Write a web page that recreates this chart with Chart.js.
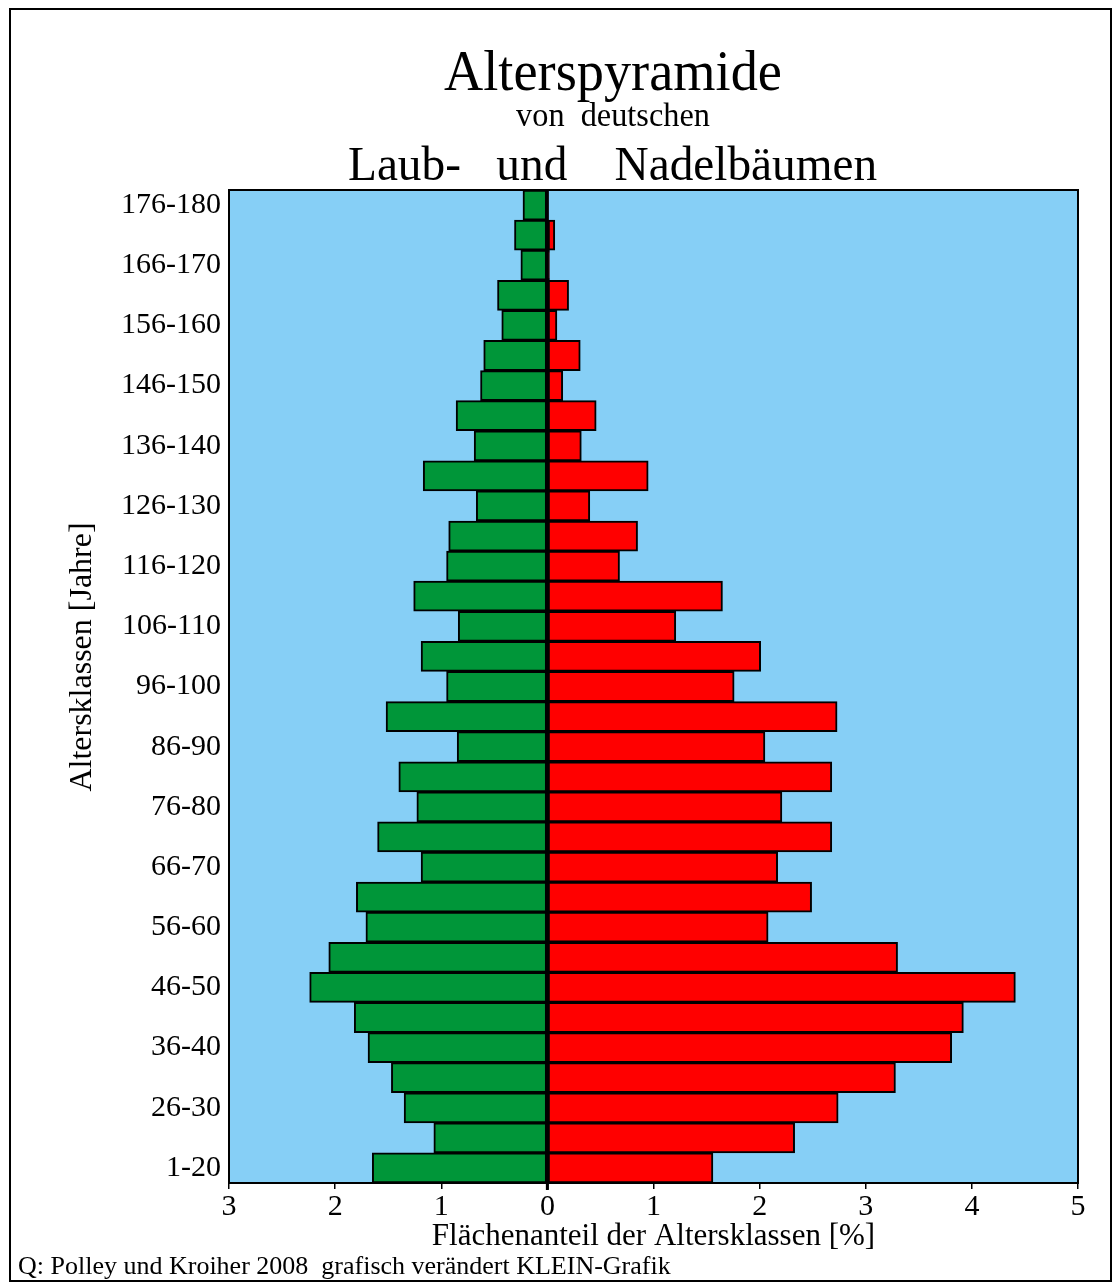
<!DOCTYPE html>
<html lang="de">
<head>
<meta charset="utf-8">
<title>Alterspyramide</title>
<script src="https://cdn.jsdelivr.net/npm/chart.js@4.4.1/dist/chart.umd.min.js"></script>
<style>
    body { margin: 0; background: #fff; font-family: "Liberation Serif", "Times New Roman", serif; }
    #page { position: relative; width: 1120px; height: 1287px; overflow: hidden; }
    #frame { position: absolute; left: 9px; top: 8px; width: 1099px; height: 1270px; border: 2px solid #000; }
    #chartBox { position: absolute; left: 0; top: 0; width: 1120px; height: 1287px; }
    .txt { position: absolute; white-space: pre; line-height: 1; color: #000; }
    #title1 { font-size: 56px; left: 613px; top: 43px; transform: translateX(-50%) scaleX(0.97); }
    #title2 { font-size: 34px; left: 613px; top: 98px; transform: translateX(-50%) scaleX(0.95); }
    #title3 { font-size: 48px; left: 348px; top: 140px; transform-origin: left center; transform: scaleX(0.985); }
    #yTitle { font-size: 32px; left: 80px; top: 657px; transform: translate(-50%, -50%) rotate(-90deg); }
    #source { font-size: 26px; left: 18px; top: 1253px; }
</style>
</head>
<body>
<div id="page">
    <div id="chartBox"><canvas id="pyramidChart"></canvas></div>
    <div id="frame"></div>
    <div class="txt" id="title1">Alterspyramide</div>
    <div class="txt" id="title2">von  deutschen</div>
    <div class="txt" id="title3">Laub-   und    Nadelbäumen</div>
    <div class="txt" id="yTitle">Altersklassen [Jahre]</div>
    <div class="txt" id="source">Q: Polley und Kroiher 2008  grafisch verändert KLEIN-Grafik</div>
</div>
<script>
// Altersklassen, von unten (jung) nach oben (alt)
const ageClasses = ['1-20', '21-25', '26-30', '31-35', '36-40', '41-45', '46-50', '51-55', '56-60',
    '61-65', '66-70', '71-75', '76-80', '81-85', '86-90', '91-95', '96-100', '101-105', '106-110',
    '111-115', '116-120', '121-125', '126-130', '131-135', '136-140', '141-145', '146-150',
    '151-155', '156-160', '161-165', '166-170', '171-175', '176-180'];

// Flächenanteil in % (Laubbäume links, Nadelbäume rechts)
const laubValues = [1.65, 1.07, 1.35, 1.47, 1.69, 1.82, 2.24, 2.06, 1.71, 1.80, 1.19, 1.60, 1.23,
    1.40, 0.85, 1.52, 0.95, 1.19, 0.84, 1.26, 0.95, 0.93, 0.67, 1.17, 0.69, 0.86, 0.63, 0.60,
    0.43, 0.47, 0.25, 0.31, 0.23];
const nadelValues = [1.56, 2.33, 2.74, 3.28, 3.81, 3.92, 4.41, 3.30, 2.08, 2.49, 2.17, 2.68, 2.21,
    2.68, 2.05, 2.73, 1.76, 2.01, 1.21, 1.65, 0.68, 0.85, 0.40, 0.95, 0.32, 0.46, 0.145, 0.31,
    0.09, 0.20, 0.02, 0.07, 0];

// x axis tick labels from -3 to 5
const xTickLabels = ['3', '2', '1', '0', '1', '2', '3', '4', '5'];

Chart.defaults.font.family = '"Liberation Serif", "Times New Roman", serif';
Chart.defaults.color = '#000';

// blue plot background + black frame round the plot
const plotFrame = {
    id: 'plotFrame',
    beforeDatasetsDraw(chart) {
        const a = chart.chartArea;
        const ctx = chart.ctx;
        ctx.save();
        ctx.fillStyle = '#86cff6';
        ctx.fillRect(a.left, a.top, a.right - a.left, a.bottom - a.top);
        ctx.restore();
    },
    afterDatasetsDraw(chart) {
        const a = chart.chartArea;
        const ctx = chart.ctx;
        const zero = chart.scales.x.getPixelForValue(0);
        ctx.save();
        ctx.strokeStyle = '#000';
        ctx.lineWidth = 2;
        ctx.strokeRect(a.left, a.top, a.right - a.left, a.bottom - a.top);
        // zero line down into the tick area
        ctx.lineWidth = 3;
        ctx.beginPath();
        ctx.moveTo(zero, a.top);
        ctx.lineTo(zero, a.bottom + 7);
        ctx.stroke();
        ctx.restore();
    }
};

const ctx = document.getElementById('pyramidChart').getContext('2d');
new Chart(ctx, {
    type: 'bar',
    data: {
        labels: ageClasses,
        datasets: [{
            label: 'Laubbäume',
            data: laubValues.map(v => -v),
            backgroundColor: '#009639',
            borderColor: '#000',
            borderWidth: 2,
            borderSkipped: false,
            barPercentage: 1,
            categoryPercentage: 1
        }, {
            label: 'Nadelbäume',
            data: nadelValues,
            backgroundColor: '#ff0000',
            borderColor: '#000',
            borderWidth: 2,
            borderSkipped: false,
            barPercentage: 1,
            categoryPercentage: 1
        }]
    },
    options: {
        indexAxis: 'y',
        responsive: true,
        maintainAspectRatio: false,
        animation: false,
        layout: {
            padding: { left: 0, top: 190, right: 42, bottom: 28 }
        },
        plugins: {
            legend: { display: false },
            tooltip: { enabled: false }
        },
        scales: {
            x: {
                stacked: true,
                min: -3,
                max: 5,
                ticks: {
                    stepSize: 1,
                    padding: 0,
                    font: { size: 30 },
                    callback: (value, index) => xTickLabels[index]
                },
                grid: {
                    drawOnChartArea: false,
                    drawTicks: true,
                    tickLength: 6,
                    color: '#000',
                    lineWidth: 1.5
                },
                border: { display: false },
                title: {
                    display: true,
                    text: 'Flächenanteil der Altersklassen [%]',
                    font: { size: 31 },
                    padding: { top: 0, bottom: 4 }
                },
                afterFit: (scale) => { scale.height = 76; }
            },
            y: {
                stacked: true,
                reverse: true,
                ticks: {
                    autoSkip: false,
                    padding: 8,
                    font: { size: 30 },
                    callback: function (value, index) {
                        return index % 2 === 0 ? ageClasses[index] : '';
                    }
                },
                grid: { display: false, drawTicks: false },
                border: { display: false },
                afterFit: (scale) => { scale.width = 229; }
            }
        }
    },
    plugins: [plotFrame]
});
</script>
</body>
</html>
